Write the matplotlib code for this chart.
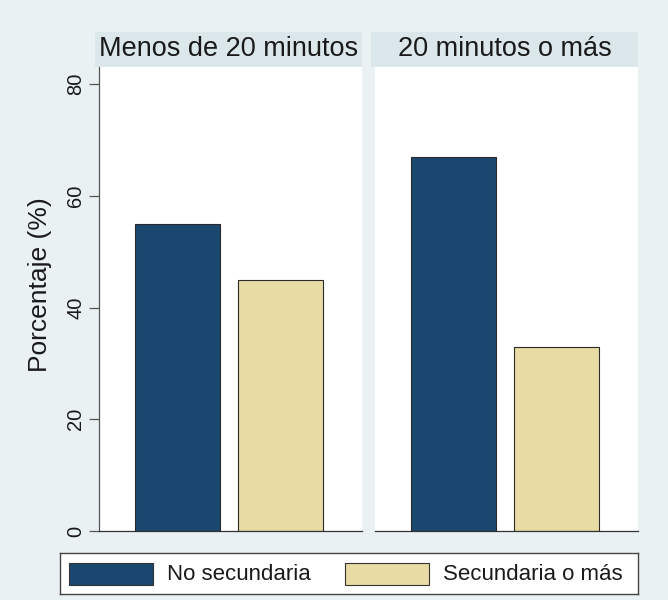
import matplotlib
matplotlib.use("Agg")
import matplotlib.pyplot as plt
from matplotlib.patches import Rectangle

plt.rcParams['font.family'] = ['Liberation Sans', 'DejaVu Sans']

# data
panels = ['Menos de 20 minutos', '20 minutos o más']
series = ['No secundaria', 'Secundaria o más']
values = [[55, 45], [67, 33]]   # per panel: no secundaria, secundaria o mas
yticks = [0, 20, 40, 60, 80]

colors = ['#1a476f', '#e8dba3']
bg = '#e9f1f3'
strip = '#dce7eb'
W, H = 668, 600


def px(x0, y0, x1, y1):
    # pixel box (top-left origin) -> figure fraction
    return [x0 / W, 1 - y1 / H, (x1 - x0) / W, (y1 - y0) / H]


fig = plt.figure(figsize=(6.68, 6.0), dpi=100, facecolor=bg)

boxes = [(99, 362), (375, 638)]
for i, (x0, x1) in enumerate(boxes):
    # title strip
    sax = fig.add_axes(px(x0 - 4, 32, x1, 67))
    sax.set_facecolor(strip)
    sax.set_xticks([])
    sax.set_yticks([])
    for s in sax.spines.values():
        s.set_visible(False)
    sax.text(0.5, 0.52, panels[i], ha='center', va='center', fontsize=19.5, color='#1a1a1a')

    ax = fig.add_axes(px(x0, 67, x1, 531))
    ax.set_facecolor('white')
    for j in range(2):
        ax.bar(j, values[i][j], width=0.825, color=colors[j], edgecolor='#2a2a2a', linewidth=0.8, zorder=2)
    unit = 103.0
    ax.set_xlim(-0.762, (x1 - x0) / unit - 0.762)
    ax.set_ylim(0, 83.05)
    ax.set_xticks([])
    for s in ['top', 'right']:
        ax.spines[s].set_visible(False)
    ax.spines['bottom'].set_color('#333333')
    ax.spines['bottom'].set_linewidth(0.9)
    if i == 0:
        ax.spines['left'].set_color('#555555')
        ax.spines['left'].set_linewidth(0.9)
        ax.set_yticks(yticks)
        ax.set_yticklabels([str(t) for t in yticks], rotation=90, va='center', fontsize=14.5, color='#1a1a1a')
        ax.tick_params(axis='y', length=7, width=0.9, color='#555555', pad=3)
    else:
        ax.spines['left'].set_visible(False)
        ax.set_yticks([])

fig.text(40 / W, 1 - 285 / H, 'Porcentaje (%)', rotation=90, ha='center', va='center', fontsize=19, color='#1a1a1a')

# legend
lax = fig.add_axes(px(60, 553, 638, 594))
lax.set_facecolor('white')
lax.set_xlim(60, 638)
lax.set_ylim(594, 553)
lax.set_xticks([])
lax.set_yticks([])
for s in lax.spines.values():
    s.set_color('#444444')
    s.set_linewidth(1.0)
legend_x = [(69, 153, 167), (345, 429, 443)]
for (p0, p1, tx), lab, c in zip(legend_x, series, colors):
    lax.add_patch(Rectangle((p0, 563), p1 - p0, 22, facecolor=c, edgecolor='#333333', linewidth=0.8))
    lax.text(tx, 574, lab, ha='left', va='center', fontsize=16, color='#1a1a1a')

fig.savefig('out.png', dpi=100, facecolor=bg)
